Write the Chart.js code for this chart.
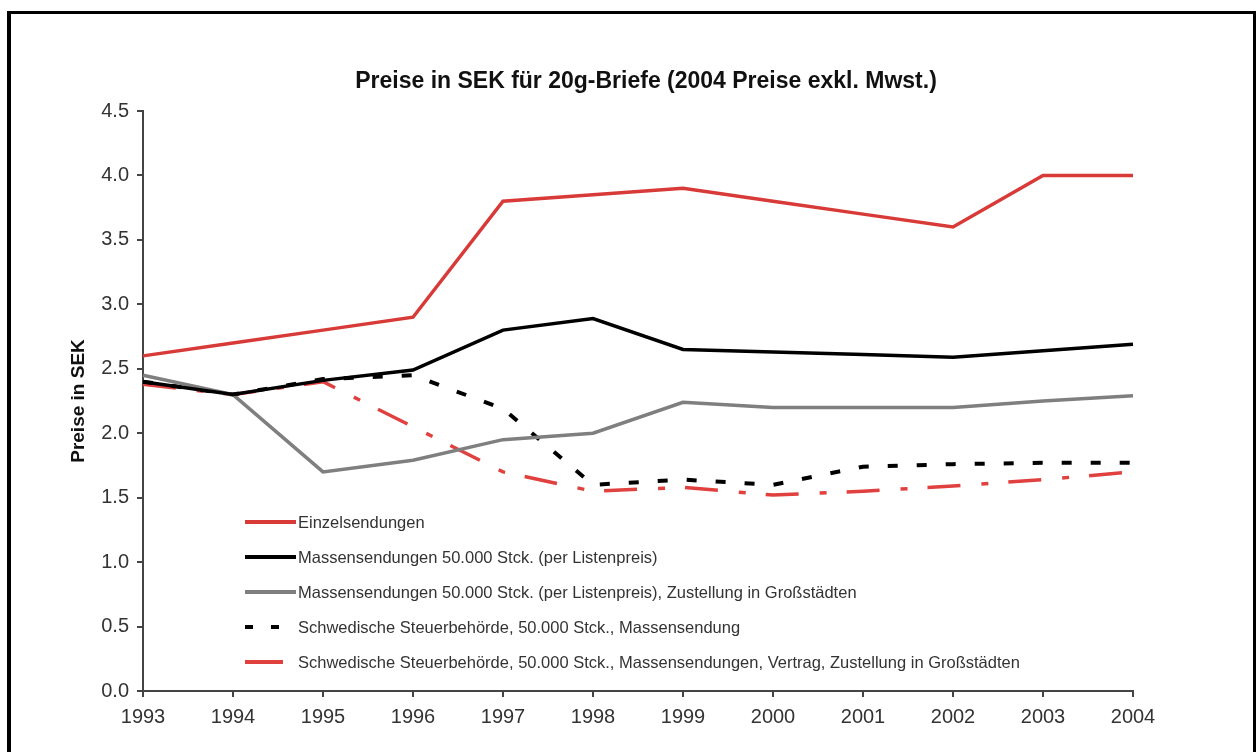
<!DOCTYPE html>
<html>
<head>
<meta charset="utf-8">
<title>Preise in SEK für 20g-Briefe</title>
<script src="https://cdn.jsdelivr.net/npm/chart.js@4.4.1/dist/chart.umd.min.js"></script>
<style>
    html, body { margin: 0; padding: 0; background: #fff; overflow: hidden; }
    #wrap { position: relative; width: 1258px; height: 752px; }
    #frame {
        position: absolute; left: 7px; top: 11px; width: 1249px; height: 760px;
        box-sizing: border-box; border: solid #000; border-width: 3px 3px 0 4px;
        pointer-events: none;
    }
    canvas { position: absolute; left: 0; top: 0; }
</style>
</head>
<body>
<div id="wrap">
    <canvas id="preiseChart" width="1258" height="752"></canvas>
    <div id="frame"></div>
</div>
<script>
const years = ['1993', '1994', '1995', '1996', '1997', '1998', '1999', '2000', '2001', '2002', '2003', '2004'];

const einzelsendungen = [2.6, 2.7, 2.8, 2.9, 3.8, 3.85, 3.9, 3.8, 3.7, 3.6, 4.0, 4.0];
const massensendungen = [2.4, 2.3, 2.41, 2.49, 2.8, 2.89, 2.65, 2.63, 2.61, 2.59, 2.64, 2.69];
const massenGrossstaedte = [2.45, 2.3, 1.7, 1.79, 1.95, 2.0, 2.24, 2.2, 2.2, 2.2, 2.25, 2.29];
const steuerMassensendung = [2.4, 2.3, 2.42, 2.45, 2.19, 1.6, 1.64, 1.6, 1.74, 1.76, 1.77, 1.77];
const steuerVertrag = [2.38, 2.3, 2.4, 2.05, 1.7, 1.55, 1.58, 1.52, 1.55, 1.59, 1.64, 1.7];

const seriesNames = [
    'Einzelsendungen',
    'Massensendungen 50.000 Stck. (per Listenpreis)',
    'Massensendungen 50.000 Stck. (per Listenpreis), Zustellung in Großstädten',
    'Schwedische Steuerbehörde, 50.000 Stck., Massensendung',
    'Schwedische Steuerbehörde, 50.000 Stck., Massensendungen, Vertrag, Zustellung in Großstädten'
];

const chartTitle = 'Preise in SEK für 20g-Briefe (2004 Preise exkl. Mwst.)';
const yTicks = [0, 0.5, 1.0, 1.5, 2.0, 2.5, 3.0, 3.5, 4.0, 4.5];

const FONT = '"Liberation Sans", Arial, sans-serif';
const RED = '#d83a38';

// title and legend are painted by hand so they sit where the sheet had them
const titlePlugin = {
    id: 'sheetTitle',
    afterDraw(chart) {
        const ctx = chart.ctx;
        const area = chart.chartArea;
        ctx.save();
        ctx.font = 'bold 23px ' + FONT;
        ctx.fillStyle = '#111';
        ctx.textAlign = 'center';
        ctx.textBaseline = 'middle';
        ctx.fillText(chartTitle, (area.left + area.right) / 2 + 8, 82);
        ctx.restore();
    }
};

const legendPlugin = {
    id: 'innerLegend',
    afterDatasetsDraw(chart) {
        const ctx = chart.ctx;
        ctx.save();
        chart.data.datasets.forEach((ds, i) => {
            const y = 522 + i * 35;
            const dashed = ds.borderDash && ds.borderDash.length > 0;
            const x0 = 245;
            const x1 = dashed ? 283 : 296;
            ctx.beginPath();
            ctx.strokeStyle = ds.borderColor;
            ctx.lineWidth = 4;
            ctx.setLineDash(ds.legendDash || []);
            ctx.moveTo(x0, y);
            ctx.lineTo(x1, y);
            ctx.stroke();
            ctx.setLineDash([]);
            ctx.font = '16.5px ' + FONT;
            ctx.fillStyle = '#333';
            ctx.textBaseline = 'middle';
            ctx.fillText(ds.label, 298, y + 1);
        });
        ctx.restore();
    }
};

const ctx = document.getElementById('preiseChart');

new Chart(ctx, {
    type: 'line',
    data: {
        labels: years,
        datasets: [{
            label: seriesNames[0],
            data: einzelsendungen,
            borderColor: RED,
            borderWidth: 3.5
        }, {
            label: seriesNames[1],
            data: massensendungen,
            borderColor: '#000000',
            borderWidth: 3.5
        }, {
            label: seriesNames[2],
            data: massenGrossstaedte,
            borderColor: '#7f7f7f',
            borderWidth: 3.5
        }, {
            label: seriesNames[3],
            data: steuerMassensendung,
            borderColor: '#000000',
            borderWidth: 4,
            borderDash: [10, 19],
            legendDash: [8, 18]
        }, {
            label: seriesNames[4],
            data: steuerVertrag,
            borderColor: '#e0403e',
            borderWidth: 3.5,
            borderDash: [33, 21, 7, 20],
            legendDash: []
        }]
    },
    options: {
        responsive: false,
        animation: false,
        layout: {
            padding: { left: 0, right: 125, top: 111, bottom: 0 }
        },
        elements: {
            point: { radius: 0 },
            line: { tension: 0, borderCapStyle: 'butt', fill: false }
        },
        plugins: {
            legend: { display: false },
            title: { display: false },
            tooltip: { enabled: false }
        },
        scales: {
            x: {
                offset: false,
                grid: {
                    offset: false,
                    drawOnChartArea: false,
                    tickLength: 6,
                    color: '#444',
                    lineWidth: 2
                },
                border: { color: '#444', width: 2 },
                ticks: {
                    font: { family: FONT, size: 20 },
                    color: '#333',
                    padding: 8,
                    maxRotation: 0,
                    autoSkip: false
                },
                afterFit(scale) { scale.height = 61; }
            },
            y: {
                min: 0,
                max: 4.5,
                afterBuildTicks(scale) {
                    scale.ticks = yTicks.map(v => ({ value: v }));
                },
                grid: {
                    drawOnChartArea: false,
                    tickLength: 6,
                    color: '#444',
                    lineWidth: 2
                },
                border: { color: '#444', width: 2 },
                ticks: {
                    font: { family: FONT, size: 20 },
                    color: '#333',
                    padding: 8,
                    callback: v => Number(v).toFixed(1)
                },
                title: {
                    display: true,
                    text: 'Preise in SEK',
                    font: { family: FONT, size: 19, weight: 'bold' },
                    color: '#111',
                    padding: { top: 67, bottom: 0 }
                },
                afterFit(scale) { scale.width = 143; }
            }
        }
    },
    plugins: [titlePlugin, legendPlugin]
});
</script>
</body>
</html>
